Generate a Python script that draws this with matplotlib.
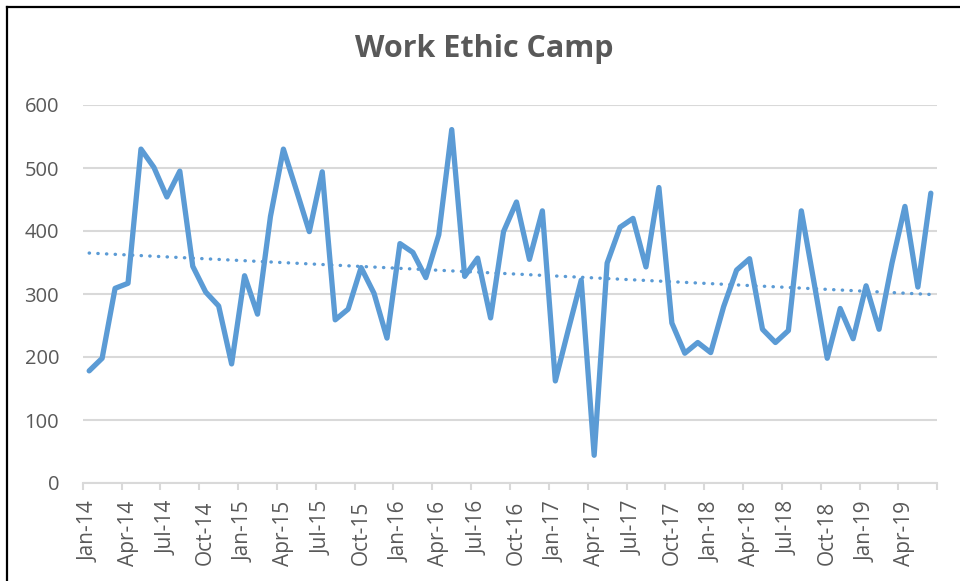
import numpy as np
import pandas as pd
import matplotlib
matplotlib.use('Agg')
import matplotlib.pyplot as plt
from matplotlib.lines import Line2D

# monthly counts, Jan-14 .. Jun-19
months = pd.date_range('2014-01-01', periods=66, freq='MS')
values = [178, 198, 309, 317, 530, 501, 454, 495, 344, 303, 281, 189,   # 2014
          329, 268, 423, 530, 465, 399, 494, 259, 276, 342, 301, 230,   # 2015
          380, 366, 326, 394, 561, 328, 357, 262, 399, 446, 355, 432,   # 2016
          162, 243, 322, 44, 349, 406, 420, 343, 469, 254, 206, 223,    # 2017
          207, 280, 338, 356, 244, 223, 242, 432, 316, 198, 277, 229,   # 2018
          313, 244, 349, 439, 311, 460]                                 # 2019
month_labels = [m.strftime('%b-%y') for m in months]
y_ticks = [0, 100, 200, 300, 400, 500, 600]

BLUE = '#5B9BD5'
GRID = '#D9D9D9'
TEXT = '#595959'

plt.rcParams['font.family'] = ['Open Sans', 'DejaVu Sans']

fig = plt.figure(figsize=(9.6, 5.81), dpi=100)
ax = fig.add_axes([82.7 / 960, 1 - 483 / 581, (937.3 - 82.7) / 960, (483 - 105) / 581])

x = np.arange(len(values))
ax.plot(x, values, color=BLUE, lw=3.8, solid_joinstyle='round', solid_capstyle='round', zorder=3)

# linear trendline (Excel style)
k, b = np.polyfit(x, values, 1)
ax.plot(x, k * x + b, color=BLUE, lw=2.4, linestyle=(0, (0.1, 2.5)),
        dash_capstyle='round', zorder=2)

ax.set_xlim(-0.5, len(values) - 0.5)
ax.set_ylim(0, 600)
ax.set_yticks(y_ticks)
ax.grid(axis='y', color=GRID, lw=1.5)
ax.set_axisbelow(True)

# category labels every 3 months, tick marks between categories
ax.set_xticks(x[::3])
ax.set_xticklabels(month_labels[::3], rotation=90, fontsize=15, color=TEXT)
ax.set_xticks(np.arange(-0.5, len(values), 3), minor=True)
ax.tick_params(axis='x', which='major', length=0, pad=13)
ax.tick_params(axis='x', which='minor', length=5, width=1.5, color=GRID)
ax.tick_params(axis='y', length=0, pad=17, labelsize=14.5, labelcolor=TEXT)

for s in ['top', 'right', 'left']:
    ax.spines[s].set_visible(False)
ax.spines['bottom'].set_color(GRID)
ax.spines['bottom'].set_linewidth(1.5)

fig.text(484 / 960, 1 - 49 / 581, 'Work Ethic Camp', ha='center', va='center',
         fontsize=22, fontweight='bold', color=TEXT)

# outer frame (top and left edges visible in the source)
fig.add_artist(Line2D([6.5 / 960, 6.5 / 960], [0, 1 - 6.5 / 581], color='black', lw=1.6,
                      transform=fig.transFigure))
fig.add_artist(Line2D([6.5 / 960, 1], [1 - 6.5 / 581, 1 - 6.5 / 581], color='black', lw=1.6,
                      transform=fig.transFigure))

fig.savefig('out.png', dpi=100)
